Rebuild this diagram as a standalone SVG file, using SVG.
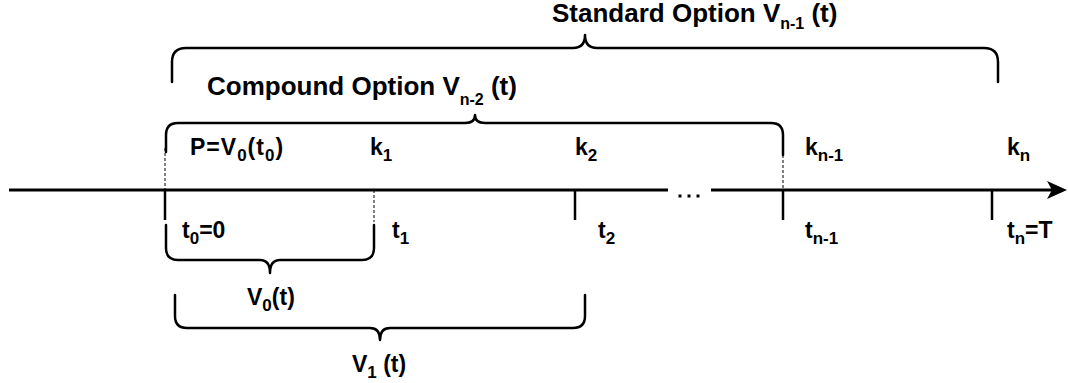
<svg xmlns="http://www.w3.org/2000/svg" width="1068" height="383" viewBox="0 0 1068 383">
<style>
  text { font-family: "Liberation Sans", Arial, sans-serif; font-weight: bold; fill: #000; }
  .title { font-size: 26px; }
  .lbl { font-size: 23px; }
  .sub { font-size: 17px; }
  .tsub { font-size: 16px; }
  .brace { fill: none; stroke: #000; stroke-width: 2.5; stroke-linecap: round; stroke-linejoin: round; }
  .axis { fill: none; stroke: #000; stroke-width: 3.2; }
  .tick { fill: none; stroke: #000; stroke-width: 2.5; }
  .dash { fill: none; stroke: #000; stroke-width: 1; stroke-dasharray: 3 2; }
</style>
<rect width="1068" height="383" fill="#fff"/>

<g id="connectors">
  <g id="axis">
    <line class="axis" x1="9" y1="190" x2="668" y2="190"/>
    <line class="axis" x1="711" y1="190" x2="1054" y2="190"/>
    <path d="M1067,190 L1047,181 L1052,190 L1047,199 Z" fill="#000"/>
    <rect x="678.5" y="194.5" width="3" height="3" fill="#000"/>
    <rect x="687.5" y="194.5" width="3" height="3" fill="#000"/>
    <rect x="696.5" y="194.5" width="3" height="3" fill="#000"/>
  </g>
  <g id="ticks">
    <line class="tick" x1="165" y1="190" x2="165" y2="220"/>
    <line class="dash" x1="165" y1="148" x2="165" y2="190"/>
    <line class="dash" x1="374" y1="190" x2="374" y2="222" stroke-width="1.5" stroke-dasharray="2 1.5"/>
    <line class="tick" x1="575" y1="190" x2="575" y2="220"/>
    <line class="tick" x1="783" y1="190" x2="783" y2="220"/>
    <line class="dash" x1="783" y1="155" x2="783" y2="190"/>
    <line class="tick" x1="992" y1="190" x2="992" y2="220"/>
  </g>
</g>

<g id="standard-option">
  <path class="brace" d="M172,82 V62 Q172,48 186,48 H573 Q585,48 585,35 Q585,48 597,48 H984 Q998,48 998,62 V82"/>
  <text class="title" x="552" y="22">Standard Option V<tspan class="tsub" dy="7">n-1</tspan><tspan dy="-7"> (t)</tspan></text>
</g>

<g id="compound-option">
  <path class="brace" d="M166,152 V135 Q166,123 178,123 H465 Q475,123 475,115 Q475,123 485,123 H771 Q783,123 783,135 V155"/>
  <text class="title" x="207" y="95">Compound Option V<tspan class="tsub" dy="10">n-2</tspan><tspan dy="-10"> (t)</tspan></text>
</g>

<g id="v0">
  <path class="brace" d="M166,225 V248 Q166,260 178,260 H260 Q270,260 270,273 Q270,260 280,260 H362 Q374,260 374,248 V225"/>
  <text class="lbl" x="247" y="305">V<tspan class="sub" dy="6">0</tspan><tspan dy="-6">(t)</tspan></text>
</g>

<g id="v1">
  <path class="brace" d="M175,295 V316 Q175,328 187,328 H370 Q380,328 380,340 Q380,328 390,328 H573 Q585,328 585,316 V295"/>
  <text class="lbl" x="352" y="372">V<tspan class="sub" dy="6">1</tspan><tspan dy="-6"> (t)</tspan></text>
</g>

<g id="t0">
  <text class="lbl" x="190" y="155" letter-spacing="1">P=V<tspan class="sub" dy="6">0</tspan><tspan dy="-6">(t</tspan><tspan class="sub" dy="6">0</tspan><tspan dy="-6">)</tspan></text>
  <text class="lbl" x="182" y="238">t<tspan class="sub" dy="6">0</tspan><tspan dy="-6">=0</tspan></text>
</g>

<g id="t1">
  <text class="lbl" x="370" y="155">k<tspan class="sub" dy="6">1</tspan></text>
  <text class="lbl" x="392" y="238">t<tspan class="sub" dy="6">1</tspan></text>
</g>

<g id="t2">
  <text class="lbl" x="575" y="155">k<tspan class="sub" dy="6">2</tspan></text>
  <text class="lbl" x="598" y="238">t<tspan class="sub" dy="6">2</tspan></text>
</g>

<g id="tn-1">
  <text class="lbl" x="805" y="155">k<tspan class="sub" dy="6">n-1</tspan></text>
  <text class="lbl" x="805" y="238">t<tspan class="sub" dy="6">n-1</tspan></text>
</g>

<g id="tn">
  <text class="lbl" x="1007" y="155">k<tspan class="sub" dy="6">n</tspan></text>
  <text class="lbl" x="1007" y="238">t<tspan class="sub" dy="6">n</tspan><tspan dy="-6">=T</tspan></text>
</g>
</svg>
